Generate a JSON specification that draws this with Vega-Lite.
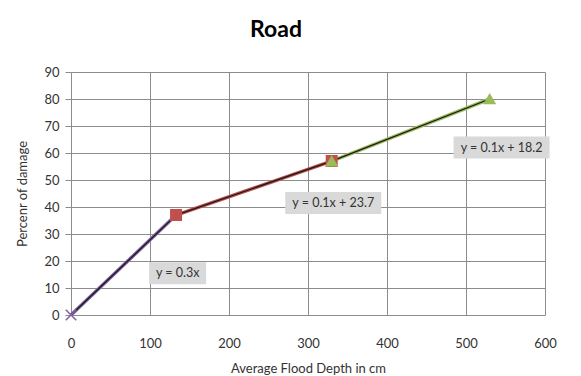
{
  "$schema": "https://vega.github.io/schema/vega-lite/v6.json",
  "width": 474,
  "height": 243,
  "autosize": {"type": "none"},
  "padding": {"left": 71, "top": 72, "right": 36, "bottom": 61},
  "background": "white",
  "config": {"font": "Lato", "view": {"stroke": null}},
  "title": {"text": "Road", "fontSize": 23, "fontWeight": "bold", "font": "Lato", "color": "#000", "anchor": "middle", "dx": -32, "offset": 24},
  "datasets": {
    "pts": [
      {"x": 0, "y": 0, "seg": "s1", "marker": "cross"},
      {"x": 133, "y": 37, "seg": "s1", "marker": "none"},
      {"x": 133, "y": 37, "seg": "s2", "marker": "square"},
      {"x": 330, "y": 57, "seg": "s2", "marker": "square"},
      {"x": 330, "y": 57, "seg": "s3", "marker": "triangle"},
      {"x": 530, "y": 80, "seg": "s3", "marker": "triangle"}
    ],
    "labels": [
      {"x": 135, "y": 15.5, "eq": "y = 0.3x"},
      {"x": 332, "y": 41.5, "eq": "y = 0.1x + 23.7"},
      {"x": 545, "y": 62, "eq": "y = 0.1x + 18.2"}
    ]
  },
  "encoding": {
    "x": {"field": "x", "type": "quantitative", "scale": {"domain": [0, 600], "nice": false},
      "axis": {"values": [0,100,200,300,400,500,600], "title": "Average Flood Depth in cm", "titleFont": "Lato", "titleFontWeight": "normal", "titleFontSize": 13, "titleColor": "#333", "titlePadding": 12,
        "labelFontSize": 13, "labelColor": "#333", "labelPadding": 22, "labelFlush": false, "grid": true, "gridColor": "#8c8c8c", "gridWidth": 1, "domain": false, "ticks": false}},
    "y": {"field": "y", "type": "quantitative", "scale": {"domain": [0, 90], "nice": false},
      "axis": {"values": [0,10,20,30,40,50,60,70,80,90], "title": "Percenr of damage", "titleFont": "Lato", "titleFontWeight": "normal", "titleFontSize": 13, "titleColor": "#333", "titlePadding": 14,
        "labelFontSize": 13, "labelColor": "#333", "labelPadding": 6, "labelFlush": false, "labelOverlap": false, "grid": true, "gridColor": "#8c8c8c", "gridWidth": 1, "domain": true, "domainColor": "#8c8c8c", "ticks": true, "tickColor": "#8c8c8c", "tickSize": 6}}
  },
  "resolve": {"scale": {"shape": "independent", "color": "independent", "stroke": "independent"}},
  "layer": [
    {
      "data": {"name": "pts"},
      "mark": {"type": "line", "strokeWidth": 3.5},
      "encoding": {
        "color": {"field": "seg", "type": "nominal", "scale": {"domain": ["s1","s2","s3"], "range": ["#8064A2","#C0504D","#9BBB59"]}, "legend": null},
        "detail": {"field": "seg"}
      }
    },
    {
      "data": {"name": "pts"},
      "mark": {"type": "line", "strokeWidth": 1.3, "color": "#1a1a1a"},
      "encoding": {
        "detail": {"field": "seg"}
      }
    },
    {
      "data": {"name": "pts"},
      "transform": [{"filter": "datum.marker != 'none'"}],
      "mark": {"type": "point", "filled": true, "opacity": 1, "strokeWidth": 1.5},
      "encoding": {
        "shape": {"field": "marker", "type": "nominal", "scale": {"domain": ["cross","square","triangle"], "range": ["M-1,-1L1,1M1,-1L-1,1", "square", "triangle-up"]}, "legend": null},
        "color": {"field": "marker", "type": "nominal", "scale": {"domain": ["cross","square","triangle"], "range": ["#8064A2","#C0504D","#9BBB59"]}, "legend": null},
        "stroke": {"field": "marker", "type": "nominal", "scale": {"domain": ["cross","square","triangle"], "range": ["#8064A2","#C0504D","#9BBB59"]}, "legend": null},
        "size": {"value": 110}
      }
    },
    {
      "data": {"name": "labels"},
      "mark": {"type": "point", "filled": true, "opacity": 1, "color": "#D9D9D9", "size": 10000},
      "encoding": {
        "shape": {"field": "eq", "type": "nominal", "scale": {"domain": ["y = 0.3x", "y = 0.1x + 23.7", "y = 0.1x + 18.2"], "range": ["M-0.57,-0.22H0.57V0.22H-0.57Z", "M-0.96,-0.22H0.96V0.22H-0.96Z", "M-0.96,-0.22H0.96V0.22H-0.96Z"]}, "legend": null}
      }
    },
    {
      "data": {"name": "labels"},
      "mark": {"type": "text", "fontSize": 12.5, "color": "#333", "font": "Lato"},
      "encoding": {
        "text": {"field": "eq"}
      }
    }
  ]
}
